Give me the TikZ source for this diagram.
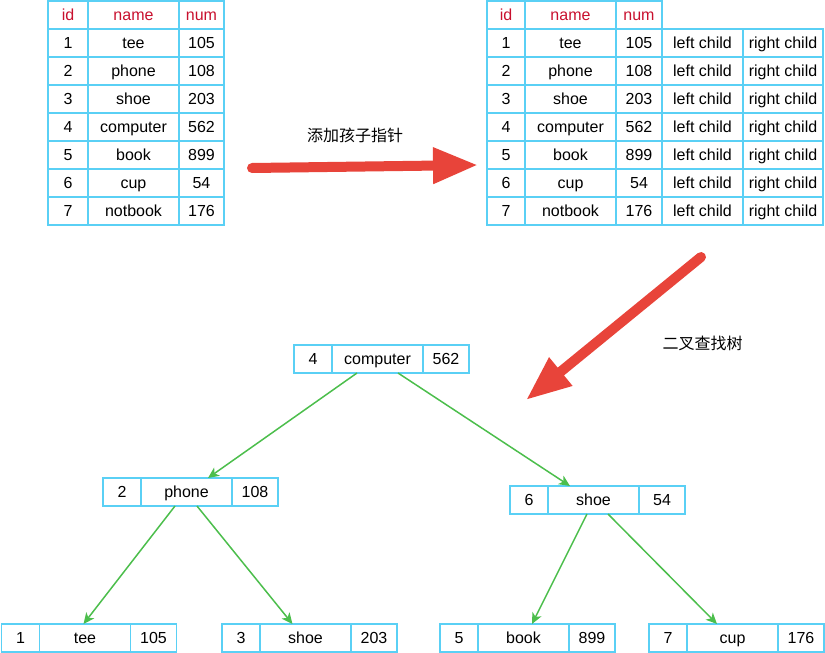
\documentclass[tikz,border=0pt]{standalone}
\usepackage{fontspec}
\setmainfont{Liberation Sans}
\newfontfamily\cjk{Noto Sans CJK SC}
\usepackage{tikz}
\usetikzlibrary{arrows.meta,positioning}
\definecolor{cellblue}{RGB}{90,208,245}
\definecolor{headred}{RGB}{200,16,46}
\definecolor{treegreen}{RGB}{76,190,76}
\definecolor{bigred}{RGB}{232,68,58}
% one tree entry: id | name | num
\newcommand{\bstnode}[5]{%
  \node[wcell=38pt] (#1-id) at (#2) {#3};
  \node[wcell=91pt,right=0pt of #1-id] (#1) {#4};
  \node[wcell=46pt,right=0pt of #1] (#1-num) {#5};}

\begin{document}
\begin{tikzpicture}[x=1pt,y=-1pt,font=\fontsize{16}{19}\selectfont,
  cell/.style={draw=cellblue,line width=1.9pt,minimum height=28pt,inner sep=0pt,outer sep=0pt,
    text height=13pt,text depth=2.5pt},
  wcell/.style={cell,minimum width=#1},
  head/.style={text=headred},
  edge/.style={draw=treegreen,line width=1.5pt,-{Stealth[length=11pt,width=10pt,inset=3pt]}},
  bigarrow/.style={draw=bigred,line width=10pt,line cap=round,-{Triangle[length=45pt,width=34pt]}}]
  \useasboundingbox (0,0) rectangle (825,653);

  % plain table
  \node[wcell=40pt,head] (a0-id) at (68,15) {id};
  \node[wcell=91pt,head] (a0-name) at (133.5,15) {name};
  \node[wcell=45pt,head] (a0-num) at (201.5,15) {num};
  \foreach \i/\w/\n [count=\r] in {1/tee/105,2/phone/108,3/shoe/203,4/computer/562,5/book/899,6/cup/54,7/notbook/176}{
    \node[wcell=40pt] (a\r-id) at (68,{15+28*\r}) {\i};
    \node[wcell=91pt] (a\r-name) at (133.5,{15+28*\r}) {\w};
    \node[wcell=45pt] (a\r-num) at (201.5,{15+28*\r}) {\n};
  }

  % table with child pointers
  \node[wcell=38pt,head] (b0-id) at (506,15) {id};
  \node[wcell=91pt,head] (b0-name) at (570.5,15) {name};
  \node[wcell=46pt,head] (b0-num) at (639,15) {num};
  \foreach \i/\w/\n [count=\r] in {1/tee/105,2/phone/108,3/shoe/203,4/computer/562,5/book/899,6/cup/54,7/notbook/176}{
    \node[wcell=38pt] (b\r-id) at (506,{15+28*\r}) {\i};
    \node[wcell=91pt] (b\r-name) at (570.5,{15+28*\r}) {\w};
    \node[wcell=46pt] (b\r-num) at (639,{15+28*\r}) {\n};
    \node[wcell=81pt] (b\r-left) at (702.5,{15+28*\r}) {left child};
    \node[wcell=80pt] (b\r-right) at (783,{15+28*\r}) {right child};
  }

  % big arrows
  \coordinate (addfrom) at (252,168);
  \coordinate (addto) at (478,165);
  \draw[bigarrow] (addfrom) -- (addto);
  \node[font=\cjk\fontsize{16}{19}\selectfont] (addlbl) at (355,135) {添加孩子指针};
  \coordinate (bstfrom) at (701,257);
  \coordinate (bstto) at (526,400);
  \draw[bigarrow] (bstfrom) -- (bstto);
  \node[font=\cjk\fontsize{16}{19}\selectfont] (bstlbl) at (702.5,343) {二叉查找树};

  % search tree
  \bstnode{n4}{313,359}{4}{computer}{562}
  \bstnode{n2}{122,492}{2}{phone}{108}
  \bstnode{n6}{529,500}{6}{shoe}{54}
  \bstnode{n1}{20.5,638}{1}{tee}{105}
  \bstnode{n3}{241,638}{3}{shoe}{203}
  \bstnode{n5}{459,638}{5}{book}{899}
  \bstnode{n7}{668,638}{7}{cup}{176}

  \draw[edge] ([xshift=-20.5pt]n4.south) -- ([xshift=21.5pt]n2.north);
  \draw[edge] ([xshift=20.5pt]n4.south) -- ([xshift=-23.5pt]n6.north);
  \draw[edge] ([xshift=-11.5pt]n2.south) -- ([xshift=-1.5pt]n1.north);
  \draw[edge] ([xshift=10.5pt]n2.south) -- ([xshift=-13pt]n3.north);
  \draw[edge] ([xshift=-6.5pt]n6.south) -- ([xshift=8.5pt]n5.north);
  \draw[edge] ([xshift=14.5pt]n6.south) -- ([xshift=-15.5pt]n7.north);
\end{tikzpicture}
\end{document}
